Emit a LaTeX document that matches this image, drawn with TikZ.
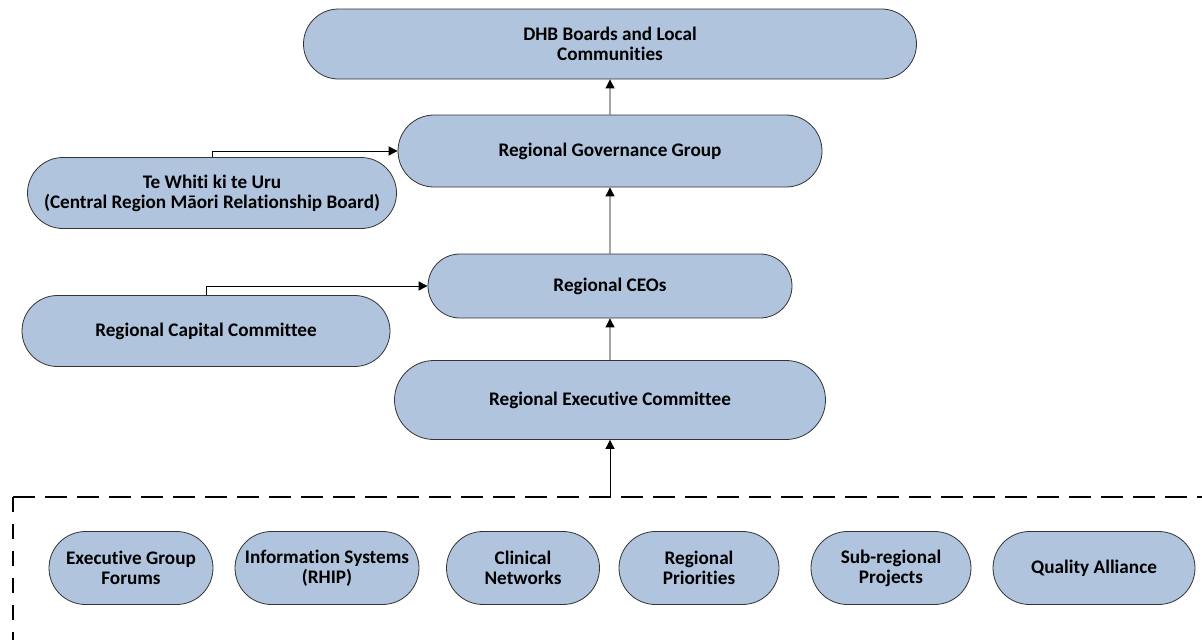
\documentclass[tikz,border=0pt]{standalone}
\usepackage{fontspec}
\setmainfont{Carlito}[Ligatures=NoCommon]
\usetikzlibrary{shapes.misc,arrows.meta}
\tikzset{
  pill/.style={rounded rectangle, draw=black!80, line width=0.8pt, fill=boxblue,
    inner sep=0pt, align=center, font=\bfseries\fontsize{19.2}{20}\selectfont},
  conn/.style={line width=0.9pt, -{Triangle[width=9pt,length=9pt]}},
  dashline/.style={line width=2pt}
}
\definecolor{boxblue}{HTML}{B0C4DE}
\begin{document}
\begin{tikzpicture}[x=1pt,y=-1pt]
\useasboundingbox (0,0) rectangle (1202,640);
\node[pill, minimum width=613pt, minimum height=70pt] (dhb) at (610,44) {DHB Boards and Local\\Communities};
\node[pill, minimum width=424pt, minimum height=72pt] (rgg) at (610,151) {Regional Governance Group};
\node[pill, minimum width=369pt, minimum height=71pt] (tw) at (212,193) {Te Whiti ki te Uru\\(Central Region Māori Relationship Board)};
\node[pill, minimum width=364pt, minimum height=64pt] (ceo) at (610,286) {Regional CEOs};
\node[pill, minimum width=368pt, minimum height=71pt] (rcc) at (206,331) {Regional Capital Committee};
\node[pill, minimum width=431pt, minimum height=79pt] (rec) at (610,400) {Regional Executive Committee};

\node[pill, minimum width=164pt, minimum height=73pt] (egf) at (131,568) {Executive Group\\Forums};
\node[pill, minimum width=184pt, minimum height=73pt] (is) at (327,568) {Information Systems\\(RHIP)};
\node[pill, minimum width=153pt, minimum height=73pt] (cn) at (523,568) {Clinical\\Networks};
\node[pill, minimum width=160pt, minimum height=73pt] (rp) at (699,568) {Regional\\Priorities};
\node[pill, minimum width=160pt, minimum height=73pt] (sr) at (891,568) {Sub-regional\\Projects};
\node[pill, minimum width=202pt, minimum height=73pt] (qa) at (1094,568) {Quality Alliance};

\coordinate (dl) at (13,497);
\coordinate (dr) at (1202,497);
\coordinate (db) at (13,640);
\coordinate (dj) at (610,497);

\draw[dashline, dash pattern=on 22pt off 10pt] (dl) -- (dr);
\draw[dashline, dash pattern=on 15pt off 12pt] (dl) -- (db);

\draw[conn] (rgg) -- (dhb);
\draw[conn] (ceo) -- (rgg);
\draw[conn] (rec) -- (ceo);
\draw[conn] (dj) -- (rec);
\draw[conn] (tw.north) |- (rgg.west);
\draw[conn] (rcc.north) |- (ceo.west);
\end{tikzpicture}
\end{document}
